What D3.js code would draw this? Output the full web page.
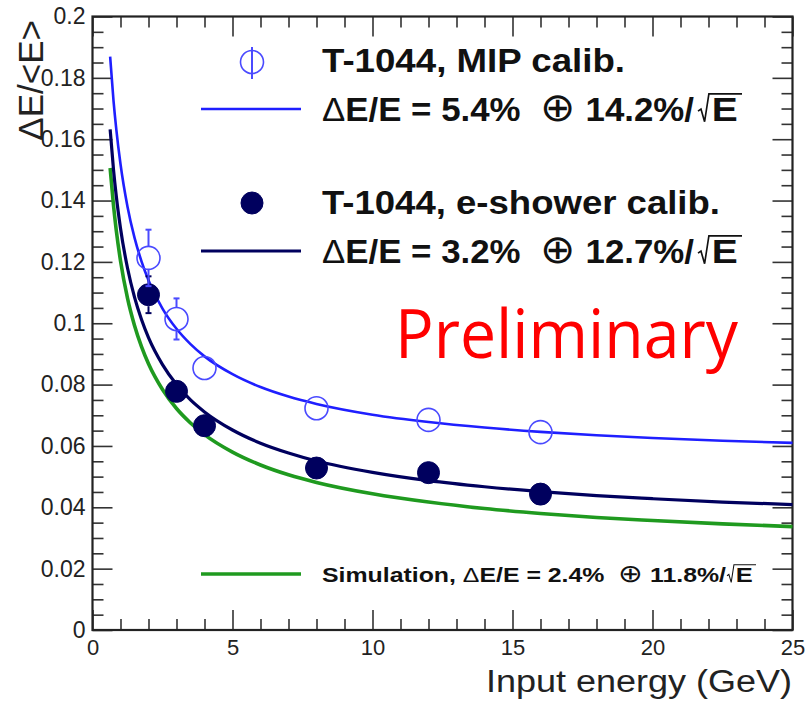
<!DOCTYPE html>
<html>
<head>
<meta charset="utf-8">
<script src="https://cdn.jsdelivr.net/npm/d3@7"></script>
<style>
  body { margin: 0; background: #fff; }
  svg { display: block; }
  .tick text { font-family: "Liberation Sans", Arial, sans-serif; fill: #222; }
</style>
</head>
<body>
<div id="chart"></div>
<script>
// measured points (energy in GeV)
var energies = [2, 3, 4, 8, 12, 16];
var mipRes = [0.1213, 0.1014, 0.0854, 0.0723, 0.0685, 0.0645];
var mipErr = [0.0092, 0.0067, 0.0025, 0.0015, 0.0015, 0.0015];
var showerRes = [0.1093, 0.0778, 0.0666, 0.0528, 0.0513, 0.0443];
var showerErr = [0.0060, 0.0025, 0.0015, 0.0015, 0.0015, 0.0015];

// fit curves
var fitE = [0.63, 0.75, 0.85, 1, 1.25, 1.5, 1.75, 2, 2.5, 3, 3.5, 4, 5, 6, 7, 8, 10, 12, 14, 16, 18, 20, 22.5, 25];
var mipFit = [0.1869, 0.1726, 0.1632, 0.1519, 0.1380, 0.1279, 0.1202, 0.1140, 0.1048, 0.0982, 0.0932, 0.0892, 0.0834, 0.0792, 0.0761, 0.0737, 0.0702, 0.0678, 0.0660, 0.0646, 0.0635, 0.0626, 0.0617, 0.0610];
var showerFit = [0.1632, 0.1501, 0.1414, 0.1310, 0.1180, 0.1085, 0.1012, 0.0953, 0.0865, 0.0800, 0.0750, 0.0711, 0.0652, 0.0609, 0.0577, 0.0551, 0.0514, 0.0487, 0.0467, 0.0451, 0.0438, 0.0428, 0.0417, 0.0409];
var simFit = [0.1506, 0.1384, 0.1302, 0.1204, 0.1082, 0.0993, 0.0924, 0.0868, 0.0784, 0.0722, 0.0675, 0.0637, 0.0580, 0.0538, 0.0506, 0.0481, 0.0444, 0.0417, 0.0396, 0.0380, 0.0367, 0.0357, 0.0346, 0.0337];

// ticks
var xTicks = [0, 5, 10, 15, 20, 25];
var xTickLabels = ["0", "5", "10", "15", "20", "25"];
var yTicks = [0, 0.02, 0.04, 0.06, 0.08, 0.1, 0.12, 0.14, 0.16, 0.18, 0.2];
var yTickLabels = ["0", "0.02", "0.04", "0.06", "0.08", "0.1", "0.12", "0.14", "0.16", "0.18", "0.2"];

var width = 809, height = 706;
var blue = "#1f1fff", mipMarker = "#4a4aff", navy = "#00005e", green = "#1f9a1f";
var font = "Liberation Sans, Arial, sans-serif";

var svg = d3.select("#chart").append("svg")
  .attr("width", width).attr("height", height);

var x = d3.scaleLinear().domain([0, 25]).range([92.5, 792.5]);
var y = d3.scaleLinear().domain([0, 0.2]).range([630, 16.5]);

var xMinor = d3.range(0, 26, 1).filter(function(d) { return d % 5 !== 0; });
var yMinor = d3.range(0, 41).map(function(i) { return i * 0.005; }).filter(function(d, i) { return i % 4 !== 0; });

function styleAxis(g) {
  g.select(".domain").remove();
  g.selectAll("line").attr("stroke", "#333").attr("stroke-width", 1.6);
}

// bottom axis
svg.append("g").attr("transform", "translate(0,630)")
  .call(d3.axisBottom(x).tickValues(xTicks).tickFormat(function(d, i) { return xTickLabels[i]; })
    .tickSize(-20).tickSizeOuter(0).tickPadding(9))
  .call(styleAxis)
  .selectAll("text").style("font-size", "22px");
svg.append("g").attr("transform", "translate(0,630)")
  .call(d3.axisBottom(x).tickValues(xMinor).tickFormat("").tickSize(-11).tickSizeOuter(0))
  .call(styleAxis);
// top axis
svg.append("g").attr("transform", "translate(0,16.5)")
  .call(d3.axisTop(x).tickValues(xTicks).tickFormat("").tickSize(-20).tickSizeOuter(0))
  .call(styleAxis);
svg.append("g").attr("transform", "translate(0,16.5)")
  .call(d3.axisTop(x).tickValues(xMinor).tickFormat("").tickSize(-11).tickSizeOuter(0))
  .call(styleAxis);
// left axis
svg.append("g").attr("transform", "translate(92.5,0)")
  .call(d3.axisLeft(y).tickValues(yTicks).tickFormat(function(d, i) { return yTickLabels[i]; })
    .tickSize(-20).tickSizeOuter(0).tickPadding(7))
  .call(styleAxis)
  .selectAll("text").style("font-size", "23px");
svg.append("g").attr("transform", "translate(92.5,0)")
  .call(d3.axisLeft(y).tickValues(yMinor).tickFormat("").tickSize(-11).tickSizeOuter(0))
  .call(styleAxis);
// right axis
svg.append("g").attr("transform", "translate(792.5,0)")
  .call(d3.axisRight(y).tickValues(yTicks).tickFormat("").tickSize(-20).tickSizeOuter(0))
  .call(styleAxis);
svg.append("g").attr("transform", "translate(792.5,0)")
  .call(d3.axisRight(y).tickValues(yMinor).tickFormat("").tickSize(-11).tickSizeOuter(0))
  .call(styleAxis);

// frame
svg.append("rect")
  .attr("x", x(0)).attr("y", y(0.2))
  .attr("width", x(25) - x(0)).attr("height", y(0) - y(0.2))
  .attr("fill", "none").attr("stroke", "#222").attr("stroke-width", 2.2);

// axis titles
svg.append("text")
  .attr("x", 792).attr("y", 692)
  .attr("text-anchor", "end")
  .attr("textLength", 306).attr("lengthAdjust", "spacingAndGlyphs")
  .style("font-family", font)
  .style("font-size", "31px").attr("fill", "#222")
  .text("Input energy (GeV)");

svg.append("text")
  .attr("transform", "translate(43,20) rotate(-90)")
  .attr("text-anchor", "end")
  .style("font-family", font)
  .style("font-size", "35px").attr("fill", "#222")
  .text("\u0394E/<E>");

// fit curves
var line = d3.line().curve(d3.curveMonotoneX)
  .x(function(d) { return x(d[0]); })
  .y(function(d) { return y(d[1]); });

function drawCurve(vals, color, w) {
  svg.append("path")
    .datum(fitE.map(function(e, i) { return [e, vals[i]]; }))
    .attr("d", line)
    .attr("fill", "none").attr("stroke", color).attr("stroke-width", w);
}
drawCurve(simFit, green, 3.6);
drawCurve(showerFit, navy, 3.2);
drawCurve(mipFit, blue, 2.6);

// error bars + markers
var r = 11.5;
function drawPoints(vals, errs, color, filled) {
  var g = svg.append("g");
  energies.forEach(function(e, i) {
    var cx = x(e), cy = y(vals[i]);
    var top = y(vals[i] + errs[i]), bot = y(vals[i] - errs[i]);
    if (cy - top > r) {
      g.append("line").attr("x1", cx).attr("x2", cx).attr("y1", top).attr("y2", cy - r)
        .attr("stroke", color).attr("stroke-width", 2);
      g.append("line").attr("x1", cx - 3).attr("x2", cx + 3).attr("y1", top).attr("y2", top)
        .attr("stroke", color).attr("stroke-width", 2);
    }
    if (bot - cy > r) {
      g.append("line").attr("x1", cx).attr("x2", cx).attr("y1", cy + r).attr("y2", bot)
        .attr("stroke", color).attr("stroke-width", 2);
      g.append("line").attr("x1", cx - 3).attr("x2", cx + 3).attr("y1", bot).attr("y2", bot)
        .attr("stroke", color).attr("stroke-width", 2);
    }
  });
  g.selectAll("circle").data(vals).enter().append("circle")
    .attr("cx", function(d, i) { return x(energies[i]); })
    .attr("cy", function(d) { return y(d); })
    .attr("r", filled ? r - 0.5 : r)
    .attr("fill", filled ? color : "none")
    .attr("stroke", color).attr("stroke-width", filled ? 1 : 1.6);
}
drawPoints(showerRes, showerErr, navy, true);
drawPoints(mipRes, mipErr, mipMarker, false);

// legend
function legendText(parts, xx, yy, size, len) {
  var t = svg.append("text")
    .attr("x", xx).attr("y", yy)
    .attr("textLength", len).attr("lengthAdjust", "spacingAndGlyphs")
    .style("font-family", font).style("font-size", size + "px")
    .style("white-space", "pre")
    .attr("fill", "#111");
  parts.forEach(function(p) {
    var ts = t.append("tspan").style("font-weight", p[1] ? "bold" : "normal").text(p[0]);
    if (p[0] === "\u2295") ts.style("font-size", (size * 1.2) + "px");
  });
  return t;
}

// root sign with bar over E, ROOT style
function sqrtE(x0, yy, size, xEnd, eLen) {
  var s = size;
  svg.append("path")
    .attr("d", "M" + x0 + "," + (yy - 0.30 * s) +
      "L" + (x0 + 0.09 * s) + "," + (yy - 0.36 * s) +
      "L" + (x0 + 0.2 * s) + "," + (yy + 0.02 * s) +
      "L" + (x0 + 0.33 * s) + "," + (yy - 0.82 * s) +
      "L" + xEnd + "," + (yy - 0.82 * s))
    .attr("fill", "none").attr("stroke", "#111").attr("stroke-width", s * 0.05);
  svg.append("text")
    .attr("x", x0 + 0.42 * s).attr("y", yy)
    .attr("textLength", eLen).attr("lengthAdjust", "spacingAndGlyphs")
    .style("font-family", font).style("font-weight", "bold").style("font-size", s + "px")
    .attr("fill", "#111")
    .text("E");
}

svg.append("line").attr("x1", 252).attr("x2", 252).attr("y1", 47).attr("y2", 79)
  .attr("stroke", mipMarker).attr("stroke-width", 2);
svg.append("circle").attr("cx", 252).attr("cy", 62).attr("r", r)
  .attr("fill", "none").attr("stroke", mipMarker).attr("stroke-width", 1.6);
legendText([["T-1044, MIP calib.", true]], 322, 72, 33, 303);
svg.append("line").attr("x1", 201).attr("x2", 301).attr("y1", 109).attr("y2", 109)
  .attr("stroke", blue).attr("stroke-width", 2.6);
legendText([["\u0394", false], ["E/E = 5.4%  ", true], ["\u2295", false], [" 14.2%/", true]], 322, 121, 33, 372);
sqrtE(698, 121, 33, 742, 26);

svg.append("circle").attr("cx", 252).attr("cy", 203).attr("r", r - 0.5)
  .attr("fill", navy).attr("stroke", navy);
legendText([["T-1044, e-shower calib.", true]], 322, 214, 33, 398);
svg.append("line").attr("x1", 201).attr("x2", 301).attr("y1", 251).attr("y2", 251)
  .attr("stroke", navy).attr("stroke-width", 3.2);
legendText([["\u0394", false], ["E/E = 3.2%  ", true], ["\u2295", false], [" 12.7%/", true]], 322, 263, 33, 372);
sqrtE(698, 263, 33, 742, 26);

svg.append("line").attr("x1", 201).attr("x2", 301).attr("y1", 574).attr("y2", 574)
  .attr("stroke", green).attr("stroke-width", 3.6);
legendText([["Simulation, ", true], ["\u0394", false], ["E/E = 2.4%  ", true], ["\u2295", false], [" 11.8%/", true]], 322, 582, 21, 404);
sqrtE(727, 582, 21, 756, 17);

// watermark
svg.append("text")
  .attr("x", 395).attr("y", 358)
  .attr("textLength", 343).attr("lengthAdjust", "spacingAndGlyphs")
  .style("font-family", "Open Sans, Lato, sans-serif")
  .style("font-size", "67px").attr("fill", "#ff0000")
  .text("Preliminary");
</script>
</body>
</html>
